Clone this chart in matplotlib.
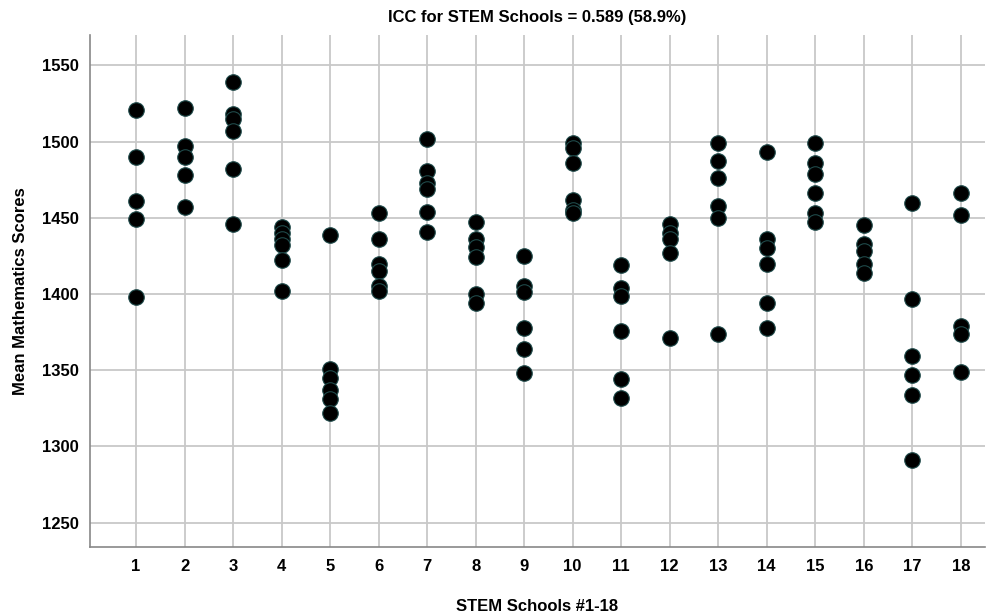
import matplotlib.pyplot as plt
import numpy as np

plt.rcParams['font.family'] = ['Liberation Sans', 'DejaVu Sans']
plt.rcParams['font.weight'] = 'bold'

# mean maths scores per STEM school
schools = list(range(1, 19))
s1 = [1521, 1490, 1461, 1449, 1398]
s2 = [1522, 1497, 1490, 1478, 1457]
s3 = [1539, 1518, 1515, 1507, 1482, 1446]
s4 = [1444, 1440, 1436, 1432, 1422, 1402]
s5 = [1439, 1351, 1345, 1337, 1331, 1322]
s6 = [1453, 1436, 1420, 1415, 1405, 1402]
s7 = [1502, 1481, 1473, 1469, 1454, 1441]
s8 = [1447, 1436, 1431, 1424, 1400, 1394]
s9 = [1425, 1405, 1401, 1378, 1364, 1348]
s10 = [1499, 1496, 1486, 1462, 1455, 1453]
s11 = [1419, 1404, 1399, 1376, 1344, 1332]
s12 = [1446, 1440, 1436, 1427, 1371]
s13 = [1499, 1487, 1476, 1458, 1450, 1374]
s14 = [1493, 1436, 1430, 1420, 1394, 1378]
s15 = [1499, 1486, 1479, 1466, 1453, 1447]
s16 = [1445, 1433, 1428, 1420, 1414]
s17 = [1460, 1397, 1359, 1347, 1334, 1291]
s18 = [1466, 1452, 1379, 1374, 1349]
scores = [s1, s2, s3, s4, s5, s6, s7, s8, s9, s10, s11, s12, s13, s14, s15, s16, s17, s18]

y_ticks = [1250, 1300, 1350, 1400, 1450, 1500, 1550]
title = 'ICC for STEM Schools = 0.589 (58.9%)'

fig = plt.figure(figsize=(9.93, 6.13), dpi=100)
ax = fig.add_axes([0.0906, 0.1077, 0.9014, 0.8353])

for sch, vals in zip(schools, scores):
    ax.scatter([sch] * len(vals), vals, s=125, c='black', edgecolors='#1f4a4a',
               linewidths=0.8, zorder=3)

ax.set_xlim(0.05, 18.5)
ax.set_ylim(1234, 1570)
ax.set_xticks(schools)
ax.set_yticks(y_ticks)
ax.grid(True, color='#c8c8c8', linewidth=1.3, zorder=0)
ax.set_axisbelow(True)
ax.tick_params(axis='x', length=0, labelsize=12, pad=9)
ax.tick_params(axis='y', length=0, labelsize=12, pad=8)
for lab in ax.get_xticklabels() + ax.get_yticklabels():
    lab.set_fontweight('bold')

for side in ['top', 'right']:
    ax.spines[side].set_visible(False)
for side in ['left', 'bottom']:
    ax.spines[side].set_color('#888888')
    ax.spines[side].set_linewidth(1.2)

ax.set_title(title, fontsize=12, fontweight='bold', pad=9)
ax.set_xlabel('STEM Schools #1-18', fontsize=12, fontweight='bold', labelpad=18)
ax.set_ylabel('Mean Mathematics Scores', fontsize=12, fontweight='bold', labelpad=10)

plt.savefig('out.png', dpi=100)
